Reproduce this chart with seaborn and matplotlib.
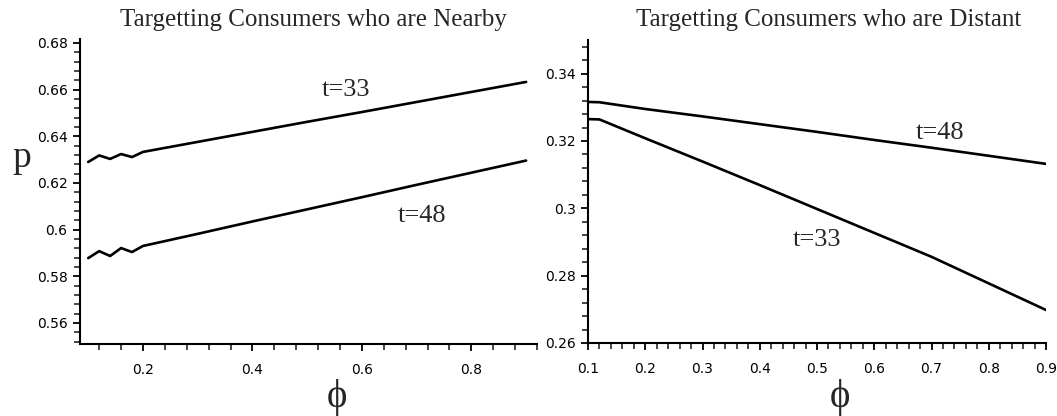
import numpy as np
import pandas as pd
import matplotlib
matplotlib.use('Agg')
import matplotlib.pyplot as plt
from matplotlib.ticker import MultipleLocator
import seaborn as sns

# Left panel: consumers nearby
phi_near = [0.1, 0.12, 0.14, 0.16, 0.18, 0.2, 0.3, 0.4, 0.5, 0.6, 0.7, 0.8, 0.9]
p_near_t33 = [0.6290, 0.6318, 0.6303, 0.6324, 0.6311, 0.6333, 0.6376, 0.6419, 0.6462, 0.6504, 0.6547, 0.6590, 0.6633]
p_near_t48 = [0.5878, 0.5908, 0.5887, 0.5921, 0.5904, 0.5930, 0.5982, 0.6035, 0.6087, 0.6139, 0.6192, 0.6244, 0.6296]

# Right panel: consumers distant
phi_far = [0.1, 0.12, 0.2, 0.3, 0.4, 0.5, 0.6, 0.7, 0.8, 0.9]
p_far_t48 = [0.3316, 0.3315, 0.3295, 0.3273, 0.3250, 0.3227, 0.3203, 0.3180, 0.3156, 0.3132]
p_far_t33 = [0.3265, 0.3264, 0.3208, 0.3139, 0.3069, 0.2998, 0.2927, 0.2856, 0.2777, 0.2698]

near_xticks = [0.2, 0.4, 0.6, 0.8]
near_yticks = [0.56, 0.58, 0.6, 0.62, 0.64, 0.66, 0.68]
near_ylabels = ['0.56', '0.58', '0.6', '0.62', '0.64', '0.66', '0.68']
far_xticks = [0.1, 0.2, 0.3, 0.4, 0.5, 0.6, 0.7, 0.8, 0.9]
far_yticks = [0.26, 0.28, 0.3, 0.32, 0.34]
far_ylabels = ['0.26', '0.28', '0.3', '0.32', '0.34']

sns.set_style('ticks')
plt.rcParams['font.family'] = ['DejaVu Sans']
serif = ['Liberation Serif', 'DejaVu Serif']

fig = plt.figure(figsize=(10.57, 4.16), dpi=100)
ax1 = fig.add_axes([0.0757, 0.1731, 0.4324, 0.7332])
ax2 = fig.add_axes([0.5563, 0.1755, 0.4333, 0.7284])

df_near = pd.DataFrame({'phi': phi_near, 't33': p_near_t33, 't48': p_near_t48})
df_far = pd.DataFrame({'phi': phi_far, 't33': p_far_t33, 't48': p_far_t48})

for col in ['t33', 't48']:
    sns.lineplot(data=df_near, x='phi', y=col, ax=ax1, color='black', lw=1.9)
    sns.lineplot(data=df_far, x='phi', y=col, ax=ax2, color='black', lw=1.9)

ax1.set_xlim(0.085, 0.92); ax1.set_ylim(0.551, 0.6817)
ax2.set_xlim(0.1, 0.9); ax2.set_ylim(0.26, 0.35)

ax1.set_xticks(near_xticks); ax1.set_xticklabels([str(v) for v in near_xticks])
ax1.set_yticks(near_yticks); ax1.set_yticklabels(near_ylabels)
ax1.xaxis.set_minor_locator(MultipleLocator(0.04))
ax1.yaxis.set_minor_locator(MultipleLocator(0.004))
ax2.set_xticks(far_xticks); ax2.set_xticklabels([str(v) for v in far_xticks])
ax2.set_yticks(far_yticks); ax2.set_yticklabels(far_ylabels)
ax2.xaxis.set_minor_locator(MultipleLocator(0.02))
ax2.yaxis.set_minor_locator(MultipleLocator(0.004))

for ax in [ax1, ax2]:
    sns.despine(ax=ax)
    ax.set_xlabel(''); ax.set_ylabel('')
    for s in ['left', 'bottom']:
        ax.spines[s].set_linewidth(1.5)
        ax.spines[s].set_color('black')
    ax.tick_params(which='major', direction='out', length=5, width=1.3, labelsize=10, colors='black')
    ax.tick_params(which='minor', direction='out', length=4, width=1.2)
    ax.tick_params(axis='x', pad=9)
    ax.tick_params(axis='y', pad=4)

ax1.text(0.57, 0.66, 't=33', fontsize=19, family=serif, ha='center', va='center')
ax1.text(0.71, 0.606, 't=48', fontsize=19, family=serif, ha='center', va='center')
ax2.text(0.715, 0.3224, 't=48', fontsize=19, family=serif, ha='center', va='center')
ax2.text(0.5, 0.2905, 't=33', fontsize=19, family=serif, ha='center', va='center')

fig.text(313/1057, 1-20/416, 'Targetting Consumers who are Nearby', fontsize=18, family=serif, ha='center', va='center')
fig.text(829/1057, 1-20/416, 'Targetting Consumers who are Distant', fontsize=18, family=serif, ha='center', va='center')
fig.text(22/1057, 1-158/416, 'p', fontsize=27, family=serif, ha='center', va='center')
fig.text(337/1057, 1-397/416, '\u03d5', fontsize=28, family=serif, ha='center', va='center')
fig.text(840/1057, 1-397/416, '\u03d5', fontsize=28, family=serif, ha='center', va='center')

fig.savefig('out.png', dpi=100)
